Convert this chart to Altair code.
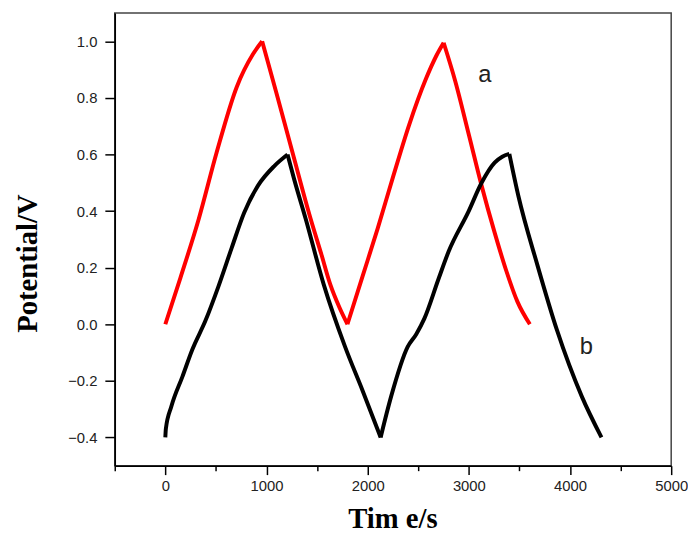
import altair as alt
import pandas as pd

# Curve a (red)
time_a = [0, 150, 331, 507, 705, 867, 957,
          1100, 1257, 1436, 1540, 1631, 1720, 1800,
          1950, 2100, 2250, 2410, 2573, 2680, 2751,
          2865, 3000, 3126, 3250, 3369, 3480, 3603]
pot_a = [0.0, 0.165, 0.373, 0.607, 0.838, 0.955, 1.0,
         0.815, 0.607, 0.373, 0.25, 0.14, 0.06, 0.0,
         0.17, 0.34, 0.52, 0.705, 0.865, 0.95, 0.995,
         0.86, 0.67, 0.49, 0.33, 0.19, 0.08, 0.0]

# Curve b (black)
time_b = [0, 5, 60, 169, 266, 397, 526, 656, 780, 916, 1079, 1208,
          1273, 1387, 1566, 1777, 1950, 2128,
          2232, 2395, 2480, 2560, 2700, 2800, 2995, 3126, 3255, 3330, 3400,
          3489, 3677, 3872, 4116, 4311]
pot_b = [-0.4, -0.37, -0.29, -0.185, -0.09, 0.013, 0.135, 0.27, 0.395, 0.49, 0.56, 0.6,
         0.513, 0.373, 0.14, -0.08, -0.235, -0.4,
         -0.255, -0.08, -0.035, 0.02, 0.16, 0.257, 0.397, 0.5, 0.571, 0.592, 0.602,
         0.454, 0.21, -0.022, -0.255, -0.4]

label_text = ["a", "b"]
label_time = [3158, 4162]
label_pot = [0.882, -0.08]

x_ticks = [v for v in range(-500, 5001, 500)]
y_ticks = [round(-0.4 + 0.1 * i, 1) for i in range(15)]


def split_segments(ts, ps):
    """Split a curve into charge/discharge branches at its turning points,
    so each branch can be drawn smoothly while the peaks stay sharp."""
    rows = []
    seg = 0
    for i, (t, p) in enumerate(zip(ts, ps)):
        rows.append({"t": t, "p": p, "seg": seg, "order": i})
        if 0 < i < len(ts) - 1:
            if (p - ps[i - 1]) * (ps[i + 1] - p) < 0:
                seg += 1
                rows.append({"t": t, "p": p, "seg": seg, "order": i})
    return pd.DataFrame(rows)


df_a = split_segments(time_a, pot_a)
df_b = split_segments(time_b, pot_b)
df_lab = pd.DataFrame({"t": label_time, "p": label_pot, "txt": label_text})

xscale = alt.Scale(domain=[-500, 5000], nice=False, zero=False)
yscale = alt.Scale(domain=[-0.5, 1.1], nice=False, zero=False)

xaxis = alt.Axis(
    title="Tim e/s", values=x_ticks,
    labelExpr="(datum.value % 1000 === 0 && datum.value >= 0) ? format(datum.value, 'd') : ''",
    tickSize={"condition": {"test": "datum.value % 1000 === 0", "value": 9}, "value": 5},
    labelPadding=4, labelOverlap=False, labelFlush=False, labelBound=False,
    grid=False, titleY=63, titleBaseline="alphabetic", titleX=281, titleAlign="center",
)
yaxis = alt.Axis(
    title="Potential/V", values=y_ticks,
    labelExpr="(abs(round(datum.value * 10)) % 2 === 0) ? format(datum.value, '.1f') : ''",
    tickSize={"condition": {"test": "abs(round(datum.value * 10)) % 2 === 0", "value": 10}, "value": 6},
    labelPadding=8, labelOverlap=False, labelFlush=False, labelBound=False,
    grid=False, titleAngle=270, titleX=-79, titleY=253, titleBaseline="alphabetic", titleAlign="center",
)

line_a = alt.Chart(df_a).mark_line(
    color="#ff0000", strokeWidth=4, interpolate="monotone", strokeJoin="miter"
).encode(
    x=alt.X("t:Q", scale=xscale, axis=xaxis),
    y=alt.Y("p:Q", scale=yscale, axis=yaxis),
    detail="seg:N",
    order="order:Q",
)
line_b = alt.Chart(df_b).mark_line(
    color="#000000", strokeWidth=4, interpolate="monotone", strokeJoin="miter"
).encode(
    x=alt.X("t:Q", scale=xscale),
    y=alt.Y("p:Q", scale=yscale),
    detail="seg:N",
    order="order:Q",
)
labels = alt.Chart(df_lab).mark_text(
    font="Liberation Sans", fontSize=24, color="#222222", align="center", baseline="middle"
).encode(
    x=alt.X("t:Q", scale=xscale),
    y=alt.Y("p:Q", scale=yscale),
    text="txt:N",
)

chart = alt.layer(line_a, line_b, labels).properties(
    width=563, height=458,
    autosize=alt.AutoSizeParams(type="none"),
    padding={"left": 108, "top": 2, "right": 17, "bottom": 67},
    background="white",
).configure_view(
    stroke="#444444", strokeWidth=1.5,
).configure_axis(
    domainColor="#000000", domainWidth=1.6,
    tickColor="#000000", tickWidth=1.5,
    labelFont="Liberation Sans", labelFontSize=15, labelColor="#222222",
    titleFont="Liberation Serif", titleFontSize=29, titleFontWeight="bold", titleColor="#000000",
)

chart.save("out.html", embed_options={"renderer": "svg", "actions": False})
